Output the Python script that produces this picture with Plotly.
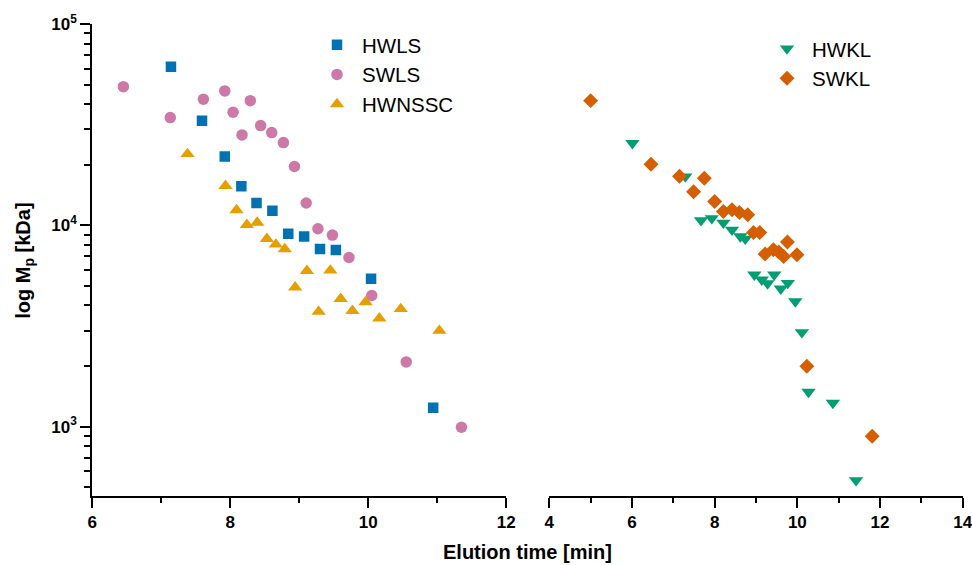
import plotly.graph_objects as go

# Left panel: elution time [min] and peak molar mass Mp [kDa]
hwls_t = [7.14, 7.59, 7.92, 8.16, 8.38, 8.61, 8.84, 9.07, 9.30, 9.53, 10.04, 10.94]
hwls_m = [61400, 33100, 21950, 15610, 12890, 11800, 9070, 8790, 7620, 7530, 5430, 1240]

swls_t = [6.45, 7.13, 7.61, 7.92, 8.04, 8.17, 8.29, 8.44, 8.60, 8.77, 8.93, 9.10,
          9.27, 9.48, 9.72, 10.05, 10.55, 11.35]
swls_m = [48850, 34280, 42290, 46500, 36450, 28120, 41620, 31280, 28880, 25760, 19580, 12900,
          9610, 8940, 6920, 4480, 2095, 992]

hwnssc_t = [7.38, 7.93, 8.09, 8.24, 8.39, 8.53, 8.66, 8.79, 8.94, 9.11, 9.28, 9.45,
            9.60, 9.77, 9.96, 10.16, 10.47, 11.03]
hwnssc_m = [22630, 15710, 11900, 10060, 10320, 8570, 8030, 7620, 4920, 5940, 3720, 5970,
            4310, 3760, 4155, 3450, 3840, 2995]

# Right panel
hwkl_t = [6.01, 7.29, 7.67, 7.93, 8.21, 8.42, 8.62, 8.74, 8.96, 9.14, 9.28, 9.44,
          9.60, 9.77, 9.95, 10.11, 10.27, 10.86, 11.42]
hwkl_m = [25570, 17470, 10590, 10830, 10290, 9500, 8800, 8570, 5680, 5365, 5140, 5680,
          4840, 5165, 4187, 2938, 1486, 1311, 541]

swkl_t = [5.00, 6.46, 7.15, 7.75, 7.49, 8.00, 8.21, 8.42, 8.60, 8.80, 8.94, 9.09,
          9.22, 9.42, 9.55, 9.67, 9.76, 9.99, 10.23, 11.81]
swkl_m = [41620, 20120, 17510, 17140, 14660, 13130, 11710, 11940, 11570, 11270, 9210, 9210,
          7195, 7560, 7360, 7000, 8254, 7140, 1992, 895]

y_ticks = [1e3, 1e4, 1e5]
y_tick_text = ["10<sup>3</sup>", "10<sup>4</sup>", "10<sup>5</sup>"]
x_ticks_left = [6, 8, 10, 12]
x_ticks_right = [4, 6, 8, 10, 12, 14]

FONT = "Liberation Sans, Arial, sans-serif"
W, H = 972, 565
fig = go.Figure()

def add(name, t, m, symbol, color, xa, ya, legend, size=11.5):
    fig.add_trace(go.Scatter(
        x=t, y=m, mode="markers", name=name,
        marker=dict(symbol=symbol, color=color, size=size, line=dict(width=0)),
        xaxis=xa, yaxis=ya, legend=legend, legendgroup=name,
    ))

add("HWLS", hwls_t, hwls_m, "square", "#0072B2", "x", "y", "legend", 10.5)
add("SWLS", swls_t, swls_m, "circle", "#CC79A7", "x", "y", "legend", 11.5)
add("HWNSSC", hwnssc_t, hwnssc_m, "triangle-up", "#E69F00", "x", "y", "legend", 12.5)
add("HWKL", hwkl_t, hwkl_m, "triangle-down", "#009E73", "x2", "y2", "legend2", 12.5)
add("SWKL", swkl_t, swkl_m, "diamond", "#D55E00", "x2", "y2", "legend2", 11.5)

top, bottom = 24, 68.5
plot_h = H - top - bottom
ymin = 5 - (H - bottom - top) / 201.5

TICKFONT = dict(family=FONT, size=17, color="black", weight="bold")

axis_common = dict(
    showline=True, linewidth=2, linecolor="black", ticks="outside",
    ticklen=10, tickwidth=2, tickcolor="black", showgrid=False, zeroline=False,
    tickfont=TICKFONT, ticklabeloverflow="allow",
    minor=dict(ticks="outside", ticklen=5, tickwidth=2, tickcolor="black", dtick=1, showgrid=False),
)

fig.update_layout(
    width=W, height=H,
    margin=dict(l=0, r=0, t=top, b=bottom, autoexpand=False),
    paper_bgcolor="white", plot_bgcolor="white",
    font=dict(family=FONT, color="black"),
    xaxis=dict(domain=[92.3 / W, 506.3 / W], range=[6, 12], tickvals=x_ticks_left,
               anchor="y", **axis_common),
    xaxis2=dict(domain=[549.3 / W, 962.7 / W], range=[4, 14], tickvals=x_ticks_right,
                anchor="y2", **axis_common),
    yaxis=dict(type="log", range=[ymin, 5], anchor="x",
               showline=True, linewidth=2, linecolor="black", ticks="outside",
               ticklen=10, tickwidth=2, tickcolor="black", showgrid=False, zeroline=False,
               tickvals=y_ticks, ticktext=y_tick_text, tickfont=TICKFONT,
               ticklabeloverflow="allow",
               minor=dict(ticks="outside", ticklen=6, tickwidth=2, tickcolor="black",
                          dtick="D1", showgrid=False)),
    yaxis2=dict(type="log", range=[ymin, 5], anchor="x2", visible=False),
    legend=dict(x=312 / W, y=0.998, xanchor="left", yanchor="top",
                font=dict(family=FONT, size=20.5, color="black"),
                bgcolor="rgba(0,0,0,0)", traceorder="grouped", tracegroupgap=0,
                itemwidth=40),
    legend2=dict(x=762 / W, y=0.99, xanchor="left", yanchor="top",
                 font=dict(family=FONT, size=20.5, color="black"),
                 bgcolor="rgba(0,0,0,0)", traceorder="normal",
                 itemwidth=40),
    showlegend=True,
)

# axis titles, positioned in pixels of the figure
fig.add_annotation(text="Elution time [min]", xref="paper", yref="paper",
                   x=527 / W, y=1 - (553 - top) / plot_h, xanchor="center", yanchor="middle",
                   showarrow=False, font=dict(family=FONT, size=20, color="black", weight="bold"))
fig.add_annotation(text="log M<sub>p</sub> [kDa]", textangle=-90, xref="paper", yref="paper",
                   x=25 / W, y=1 - (261 - top) / plot_h, xanchor="center", yanchor="middle",
                   showarrow=False, font=dict(family=FONT, size=20, color="black", weight="bold"))

fig.write_html("out.html")
